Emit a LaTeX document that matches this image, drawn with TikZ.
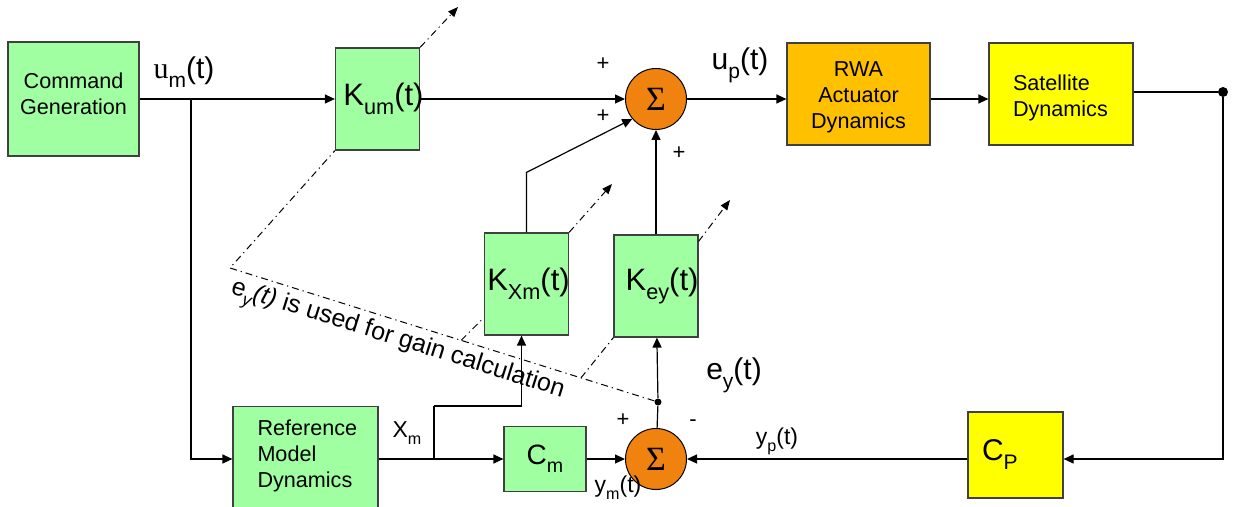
\documentclass[tikz,border=0pt]{standalone}
\usepackage{fontspec}
\setmainfont{Liberation Sans}
\newfontfamily\timesfont{Liberation Serif}
\usepackage{graphicx}
\usetikzlibrary{arrows.meta,positioning,calc}
\definecolor{lgreen}{HTML}{A0FFA0}
\definecolor{rwaorange}{HTML}{FFC000}
\definecolor{sumorange}{HTML}{F0820F}
\definecolor{satyellow}{HTML}{FFFF00}
\definecolor{edge}{HTML}{404040}
\newcommand{\lowidx}[1]{\raisebox{-0.3em}{\scalebox{0.7}{#1}}}

\begin{document}
\begin{tikzpicture}[x=0.5pt,y=-0.5pt,
block/.style={draw=edge,line width=0.6pt,inner sep=0pt},
boxtxt/.style={align=center,inner sep=0pt,font=\fontsize{10.8}{13}\selectfont},
gain/.style={block,fill=lgreen,minimum width=42pt,minimum height=51pt},
kfont/.style={font=\fontsize{15.5}{16}\selectfont},
sumnode/.style={circle,draw=black,line width=0.5pt,fill=sumorange,minimum size=30.5pt,inner sep=0pt,font=\timesfont\fontsize{17}{17}\selectfont},
arr/.style={-{Triangle[length=5pt,width=4.5pt]},line width=0.6pt},
wire/.style={line width=0.6pt},
gainline/.style={line width=0.5pt,dash pattern=on 3.5pt off 2pt on 0.6pt off 2pt},
gainarr/.style={gainline,-{Triangle[length=5pt,width=4pt]}},
sig/.style={font=\fontsize{15}{15}\selectfont},
sml/.style={font=\fontsize{11.5}{11.5}\selectfont},
pm/.style={font=\fontsize{11}{11}\selectfont},
dotnode/.style={circle,fill=black,inner sep=0pt,minimum size=#1}
]
\useasboundingbox (0,0) rectangle (1241,507);

\node[block,fill=lgreen,minimum width=65.5pt,minimum height=57pt,label={[boxtxt,yshift=2.5pt]center:Command\\Generation}] (cmd) at (73.5,99) {};
\node[gain,label={[kfont,xshift=3pt]center:K\lowidx{um}(t)}] (kum) at (377.5,99) {};
\node[sumnode] (sumtop) at (656,99) {Σ};
\node[block,fill=rwaorange,minimum width=71.5pt,minimum height=51pt,label={[boxtxt,yshift=-1.5pt]center:RWA\\Actuator\\Dynamics}] (rwa) at (858.5,94) {};
\node[block,fill=satyellow,minimum width=72pt,minimum height=51pt,label={[boxtxt,text width=48pt,align=left,yshift=-2pt]center:Satellite\\Dynamics}] (sat) at (1061,94) {};
\node[dotnode=5pt] (dot) at (1223,92) {};

\node[gain,label={[kfont,xshift=1pt]center:K\lowidx{Xm}(t)}] (kxm) at (526.5,284) {};
\node[gain,label={[kfont,xshift=3pt]center:K\lowidx{ey}(t)}] (key) at (656,286) {};
\node[dotnode=3.5pt] (edot) at (658,402) {};

\node[block,fill=lgreen,minimum width=72.5pt,minimum height=52.5pt,label={[boxtxt,text width=48pt,align=left,yshift=1.5pt]center:Reference\\Model\\Dynamics}] (ref) at (305.5,459) {};
\node[block,fill=lgreen,minimum width=41pt,minimum height=32.5pt,font=\fontsize{14}{14}\selectfont] (cm) at (545,459) {C\lowidx{m}};
\node[sumnode] (sumbot) at (656,459) {Σ};
\node[block,fill=satyellow,minimum width=47.5pt,minimum height=43pt,text width=33.5pt,align=left,font=\fontsize{15}{15}\selectfont] (cp) at (1015.5,455) {C\lowidx{P}};

\node[sig] (um) at (184,72) {{\timesfont u}\lowidx{m}(t)};
\node[sig] (up) at (740,65) {u\lowidx{p}(t)};
\node[sig] (ey) at (734,375) {e\lowidx{y}(t)};
\node[sml] (xm) at (407,433) {X\lowidx{m}};
\node[sml] (yp) at (777,441) {y\lowidx{p}(t)};
\node[sml] (ym) at (618,488) {y\lowidx{m}(t)};
\node[pm] (p1) at (603,64) {+};
\node[pm] (p2) at (603,116) {+};
\node[pm] (p3) at (679,153) {+};
\node[pm] (p4) at (623,420) {+};
\node[pm] (p5) at (693,423) {-};
\node[font=\fontsize{12.5}{12.5}\selectfont,rotate=-17.4] (note) at (397,342) {e\lowidx{\itshape y}\textit{(t)} is used for gain calculation};

\coordinate (br1) at (191,99);
\coordinate (br2) at (434,459);
\coordinate (xmup) at (434,406);
\coordinate (c1) at (230,268);
\coordinate (kumtip) at (458,7);
\coordinate (kxmtip) at (612,184);
\coordinate (keytip) at (730,200);

\draw[arr] (cmd) -- (kum);
\draw[arr] (br1) |- (ref.west);
\draw[arr] (kum) -- (sumtop);
\draw[arr] (sumtop.east) -- (sumtop.east -| rwa.west);
\draw[arr] (rwa.east |- sumtop) -- (sat.west |- sumtop);
\draw[wire] (sat.east |- dot) -- (dot);
\draw[arr] (dot) |- (cp.east |- sumbot);
\draw[arr] (cp.west |- sumbot) -- (sumbot);
\draw[arr] (ref) -- (cm);
\draw[wire] (br2) -- (xmup);
\draw[arr] (xmup) -| ([xshift=-2.5pt]kxm.south);
\draw[arr] (cm) -- (sumbot);
\draw[wire] (edot) -- (sumbot);
\draw[arr] (edot) -- (key);
\draw[arr] (key) -- (sumtop);
\draw[arr] (kxm.north) -- ++(0,-60) -- (sumtop.220);

\draw[gainline] (edot) -- (c1) -- (kum.south west);
\draw[gainline] ($(c1)!0.54!(edot)$) -- ([yshift=9pt]kxm.south west);
\draw[gainline] ($(c1)!0.82!(edot)$) -- (key.south west);
\draw[gainarr] (kum.north east) -- (kumtip);
\draw[gainarr] (kxm.north east) -- (kxmtip);
\draw[gainarr] ([yshift=-3.5pt]key.north east) -- (keytip);
\end{tikzpicture}
\end{document}
